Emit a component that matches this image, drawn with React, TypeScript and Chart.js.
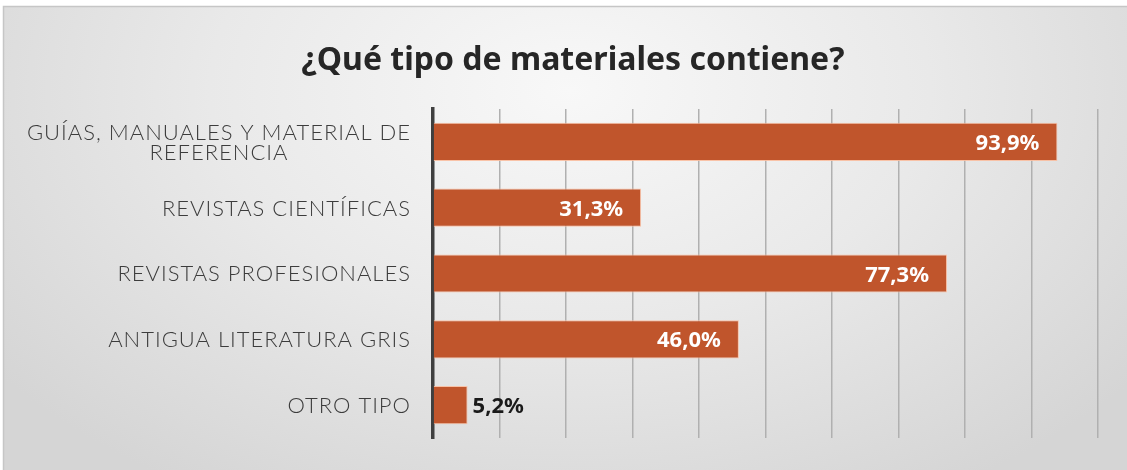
import React, { useEffect, useRef } from "react";
import { Chart, registerables } from "chart.js";

Chart.register(...registerables);

const TITLE = "¿Qué tipo de materiales contiene?";
const CATEGORIES: string[][] = [
  ["GUÍAS, MANUALES Y MATERIAL DE", "REFERENCIA"],
  ["REVISTAS CIENTÍFICAS"],
  ["REVISTAS PROFESIONALES"],
  ["ANTIGUA LITERATURA GRIS"],
  ["OTRO TIPO"],
];
const VALUES = [93.9, 31.3, 77.3, 46.0, 5.2];
const X_MIN = 0;
const X_MAX = 100;
const X_STEP = 10;

const BAR_COLOR = "#c0552c";
const LABEL_FONT = "Lato, 'Noto Sans', sans-serif";
const BOLD_FONT = "'Noto Sans', 'Open Sans', sans-serif";

const fmt = (v: number) => v.toFixed(1).replace(".", ",") + "%";

export default function App() {
  const ref = useRef<HTMLCanvasElement>(null);

  useEffect(() => {
    const canvas = ref.current!;

    const bgPlugin = {
      id: "bg",
      beforeDraw(chart: any) {
        const { ctx, width, height } = chart;
        ctx.save();
        ctx.fillStyle = "#ffffff";
        ctx.fillRect(0, 0, width, height);
        ctx.save();
        ctx.translate(570, 90);
        ctx.scale(1, 0.65);
        const g = ctx.createRadialGradient(0, 0, 0, 0, 0, 720);
        g.addColorStop(0, "#f8f8f8");
        g.addColorStop(0.5, "#e9e9e9");
        g.addColorStop(1, "#d5d5d5");
        ctx.fillStyle = g;
        ctx.fillRect(3 - 570, (6 - 90) / 0.65, width, (height - 6) / 0.65 + 10);
        ctx.restore();
        ctx.strokeStyle = "#c6c6c6";
        ctx.lineWidth = 1.5;
        ctx.beginPath();
        ctx.moveTo(3.5, height);
        ctx.lineTo(3.5, 6.5);
        ctx.lineTo(width, 6.5);
        ctx.stroke();
        ctx.restore();
      },
    };

    const textPlugin = {
      id: "texts",
      afterDraw(chart: any) {
        const { ctx } = chart;
        ctx.save();
        // title
        ctx.fillStyle = "#262626";
        ctx.font = `bold 32px ${BOLD_FONT}`;
        ctx.textAlign = "center";
        ctx.textBaseline = "alphabetic";
        ctx.fillText(TITLE, 573, 70);

        // category labels
        const y = chart.scales.y;
        const size = 22;
        ctx.font = `300 ${size}px ${LABEL_FONT}`;
        (ctx as any).letterSpacing = "1px";
        ctx.fillStyle = "#3c3c3c";
        const capH = size * 0.72;
        const gap = 19.5;
        const rightEdge = 411;
        CATEGORIES.forEach((lines, i) => {
          const cy = y.getPixelForTick(i);
          const maxW = Math.max(...lines.map((l) => ctx.measureText(l).width));
          const cx = rightEdge - maxW / 2;
          lines.forEach((l, j) => {
            const by = cy + capH / 2 + (j - (lines.length - 1) / 2) * gap;
            ctx.textAlign = "center";
            ctx.fillText(l, cx, by);
          });
        });
        ctx.restore();
      },
      afterDatasetsDraw(chart: any) {
        const { ctx } = chart;
        const meta = chart.getDatasetMeta(0);
        ctx.save();
        ctx.font = `bold 22px ${BOLD_FONT}`;
        ctx.textBaseline = "alphabetic";
        meta.data.forEach((bar: any, i: number) => {
          const v = VALUES[i];
          const txt = fmt(v);
          const by = bar.y + 8;
          if (v > 15) {
            ctx.fillStyle = "#ffffff";
            ctx.textAlign = "right";
            ctx.fillText(txt, bar.x - 18, by);
          } else {
            ctx.fillStyle = "#1a1a1a";
            ctx.textAlign = "left";
            ctx.fillText(txt, bar.x + 5, by);
          }
        });
        ctx.restore();
      },
    };

    const chart = new Chart(canvas, {
      type: "bar",
      data: {
        labels: CATEGORIES,
        datasets: [
          {
            data: VALUES,
            backgroundColor: BAR_COLOR,
            borderColor: "rgba(250,190,160,0.9)",
            borderWidth: 1,
            borderSkipped: "left",
            barPercentage: 0.58,
            categoryPercentage: 1,
          },
        ],
      },
      options: {
        indexAxis: "y",
        responsive: false,
        animation: false,
        events: [],
        layout: { padding: { left: 0, right: 29, top: 109, bottom: 32 } },
        plugins: {
          legend: { display: false },
          title: { display: false },
          tooltip: { enabled: false },
        },
        scales: {
          x: {
            min: X_MIN,
            max: X_MAX,
            ticks: { display: false, stepSize: X_STEP },
            grid: { color: "#b0b0b0", lineWidth: 1.5, drawTicks: false },
            border: { display: false },
          },
          y: {
            ticks: { display: false },
            grid: { display: false, drawTicks: false },
            border: { display: true, color: "#3f3f3f", width: 3.5 },
            afterFit(scale: any) {
              scale.width = 433;
            },
          },
        },
      },
      plugins: [bgPlugin, textPlugin],
    });

    return () => chart.destroy();
  }, []);

  return (
    <div style={{ position: "fixed", left: 0, top: 0, width: 1127, height: 470 }}>
      <canvas ref={ref} width={1127} height={470} style={{ display: "block" }} />
    </div>
  );
}
